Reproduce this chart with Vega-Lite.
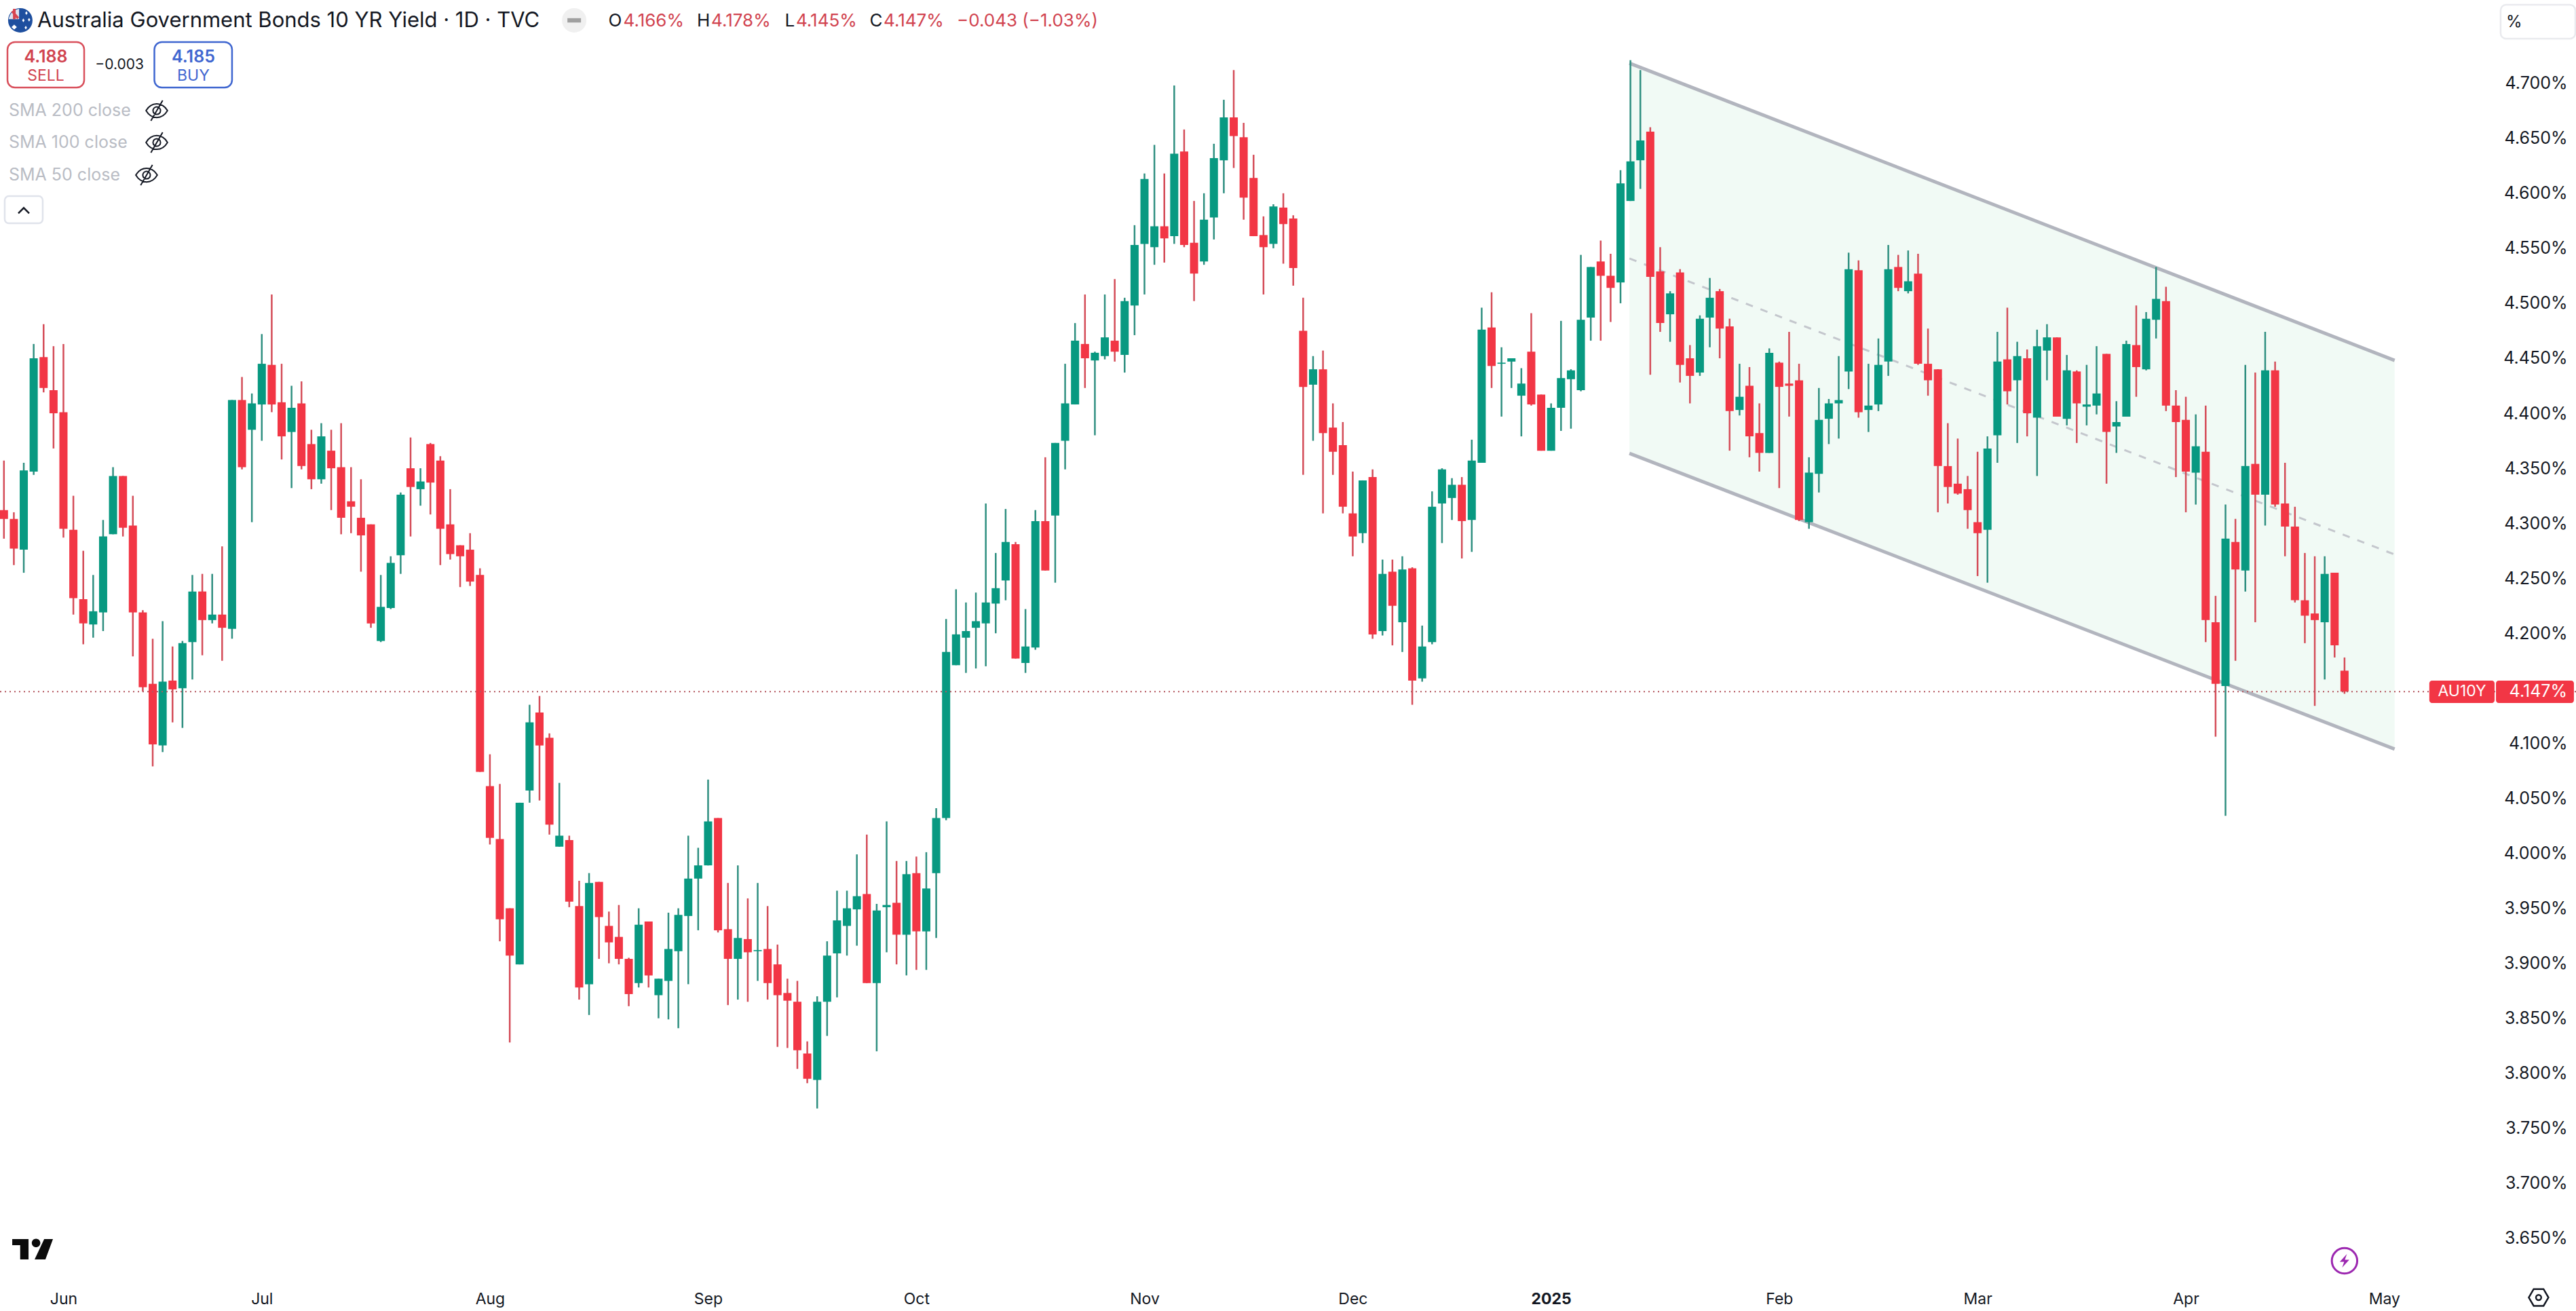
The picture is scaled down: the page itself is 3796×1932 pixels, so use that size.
{
"$schema":"https://vega.github.io/schema/vega-lite/v6.json",
"width":3796,"height":1932,"padding":0,"autosize":{"type":"none"},"background":"#ffffff",
"config":{"view":{"stroke":null},"text":{"font":"Inter","baseline":"middle","align":"left"}},
"data":{"values":[{}]},
"datasets":{
"channel":[
{"bar":163.9,"upper":4.7183,"mid":4.5407,"lower":4.3636},
{"bar":241.05,"upper":4.4481,"mid":4.2716,"lower":4.0947}],
"candles":[
{"bar":0,"open":4.312,"high":4.357,"low":4.286,"close":4.304},
{"bar":1,"open":4.304,"high":4.31,"low":4.262,"close":4.277},
{"bar":2,"open":4.276,"high":4.355,"low":4.255,"close":4.348},
{"bar":3,"open":4.347,"high":4.463,"low":4.344,"close":4.45},
{"bar":4,"open":4.451,"high":4.481,"low":4.419,"close":4.423},
{"bar":5,"open":4.421,"high":4.461,"low":4.368,"close":4.4},
{"bar":6,"open":4.401,"high":4.463,"low":4.287,"close":4.295},
{"bar":7,"open":4.294,"high":4.325,"low":4.217,"close":4.232},
{"bar":8,"open":4.231,"high":4.275,"low":4.19,"close":4.209},
{"bar":9,"open":4.208,"high":4.253,"low":4.196,"close":4.22},
{"bar":10,"open":4.219,"high":4.303,"low":4.202,"close":4.288},
{"bar":11,"open":4.29,"high":4.351,"low":4.29,"close":4.343},
{"bar":12,"open":4.343,"high":4.343,"low":4.288,"close":4.296},
{"bar":13,"open":4.298,"high":4.325,"low":4.179,"close":4.219},
{"bar":14,"open":4.219,"high":4.221,"low":4.147,"close":4.151},
{"bar":15,"open":4.154,"high":4.195,"low":4.079,"close":4.099},
{"bar":16,"open":4.098,"high":4.211,"low":4.092,"close":4.156},
{"bar":17,"open":4.157,"high":4.188,"low":4.119,"close":4.149},
{"bar":18,"open":4.15,"high":4.193,"low":4.114,"close":4.191},
{"bar":19,"open":4.192,"high":4.253,"low":4.158,"close":4.238},
{"bar":20,"open":4.238,"high":4.254,"low":4.18,"close":4.212},
{"bar":21,"open":4.212,"high":4.254,"low":4.209,"close":4.217},
{"bar":22,"open":4.217,"high":4.279,"low":4.175,"close":4.205},
{"bar":23,"open":4.204,"high":4.412,"low":4.195,"close":4.412},
{"bar":24,"open":4.412,"high":4.433,"low":4.349,"close":4.351},
{"bar":25,"open":4.385,"high":4.418,"low":4.301,"close":4.409},
{"bar":26,"open":4.408,"high":4.472,"low":4.375,"close":4.445},
{"bar":27,"open":4.444,"high":4.508,"low":4.401,"close":4.408},
{"bar":28,"open":4.41,"high":4.445,"low":4.358,"close":4.379},
{"bar":29,"open":4.383,"high":4.425,"low":4.332,"close":4.405},
{"bar":30,"open":4.409,"high":4.429,"low":4.349,"close":4.352},
{"bar":31,"open":4.372,"high":4.385,"low":4.331,"close":4.34},
{"bar":32,"open":4.34,"high":4.391,"low":4.336,"close":4.379},
{"bar":33,"open":4.366,"high":4.385,"low":4.312,"close":4.35},
{"bar":34,"open":4.351,"high":4.391,"low":4.29,"close":4.305},
{"bar":35,"open":4.32,"high":4.351,"low":4.291,"close":4.315},
{"bar":36,"open":4.305,"high":4.34,"low":4.256,"close":4.289},
{"bar":37,"open":4.299,"high":4.299,"low":4.205,"close":4.209},
{"bar":38,"open":4.193,"high":4.253,"low":4.192,"close":4.224},
{"bar":39,"open":4.223,"high":4.27,"low":4.222,"close":4.264},
{"bar":40,"open":4.271,"high":4.328,"low":4.254,"close":4.326},
{"bar":41,"open":4.35,"high":4.378,"low":4.288,"close":4.333},
{"bar":42,"open":4.331,"high":4.35,"low":4.316,"close":4.338},
{"bar":43,"open":4.372,"high":4.373,"low":4.308,"close":4.337},
{"bar":44,"open":4.357,"high":4.361,"low":4.262,"close":4.295},
{"bar":45,"open":4.299,"high":4.331,"low":4.267,"close":4.272},
{"bar":46,"open":4.28,"high":4.28,"low":4.242,"close":4.27},
{"bar":47,"open":4.276,"high":4.291,"low":4.243,"close":4.247},
{"bar":48,"open":4.253,"high":4.259,"low":4.074,"close":4.074},
{"bar":49,"open":4.061,"high":4.09,"low":4.008,"close":4.014},
{"bar":50,"open":4.013,"high":4.063,"low":3.92,"close":3.94},
{"bar":51,"open":3.95,"high":3.95,"low":3.828,"close":3.907},
{"bar":52,"open":3.899,"high":4.046,"low":3.899,"close":4.046},
{"bar":53,"open":4.057,"high":4.135,"low":4.046,"close":4.119},
{"bar":54,"open":4.128,"high":4.143,"low":4.048,"close":4.098},
{"bar":55,"open":4.105,"high":4.109,"low":4.017,"close":4.026},
{"bar":56,"open":4.006,"high":4.064,"low":4.006,"close":4.016},
{"bar":57,"open":4.012,"high":4.016,"low":3.951,"close":3.956},
{"bar":58,"open":3.952,"high":3.975,"low":3.867,"close":3.878},
{"bar":59,"open":3.881,"high":3.982,"low":3.853,"close":3.973},
{"bar":60,"open":3.974,"high":3.974,"low":3.904,"close":3.942},
{"bar":61,"open":3.934,"high":3.947,"low":3.9,"close":3.919},
{"bar":62,"open":3.924,"high":3.953,"low":3.899,"close":3.904},
{"bar":63,"open":3.904,"high":3.905,"low":3.861,"close":3.872},
{"bar":64,"open":3.882,"high":3.95,"low":3.878,"close":3.935},
{"bar":65,"open":3.938,"high":3.938,"low":3.878,"close":3.889},
{"bar":66,"open":3.871,"high":3.886,"low":3.85,"close":3.886},
{"bar":67,"open":3.884,"high":3.946,"low":3.849,"close":3.913},
{"bar":68,"open":3.911,"high":3.95,"low":3.841,"close":3.944},
{"bar":69,"open":3.943,"high":4.016,"low":3.881,"close":3.977},
{"bar":70,"open":3.977,"high":4.005,"low":3.93,"close":3.989},
{"bar":71,"open":3.989,"high":4.067,"low":3.989,"close":4.029},
{"bar":72,"open":4.032,"high":4.032,"low":3.928,"close":3.93},
{"bar":73,"open":3.931,"high":3.973,"low":3.862,"close":3.904},
{"bar":74,"open":3.904,"high":3.989,"low":3.867,"close":3.923},
{"bar":75,"open":3.922,"high":3.959,"low":3.865,"close":3.91},
{"bar":76,"open":3.911,"high":3.973,"low":3.884,"close":3.912},
{"bar":77,"open":3.913,"high":3.952,"low":3.867,"close":3.882},
{"bar":78,"open":3.899,"high":3.917,"low":3.824,"close":3.871},
{"bar":79,"open":3.873,"high":3.886,"low":3.823,"close":3.866},
{"bar":80,"open":3.865,"high":3.884,"low":3.804,"close":3.821},
{"bar":81,"open":3.818,"high":3.829,"low":3.791,"close":3.795},
{"bar":82,"open":3.794,"high":3.87,"low":3.768,"close":3.865},
{"bar":83,"open":3.865,"high":3.92,"low":3.834,"close":3.907},
{"bar":84,"open":3.909,"high":3.966,"low":3.869,"close":3.939},
{"bar":85,"open":3.934,"high":3.966,"low":3.907,"close":3.95},
{"bar":86,"open":3.949,"high":3.999,"low":3.916,"close":3.961},
{"bar":87,"open":3.963,"high":4.017,"low":3.882,"close":3.882},
{"bar":88,"open":3.882,"high":3.954,"low":3.82,"close":3.948},
{"bar":89,"open":3.951,"high":4.029,"low":3.91,"close":3.953},
{"bar":90,"open":3.955,"high":3.993,"low":3.899,"close":3.926},
{"bar":91,"open":3.926,"high":3.993,"low":3.889,"close":3.981},
{"bar":92,"open":3.982,"high":3.997,"low":3.894,"close":3.929},
{"bar":93,"open":3.929,"high":4.001,"low":3.894,"close":3.968},
{"bar":94,"open":3.982,"high":4.041,"low":3.923,"close":4.032},
{"bar":95,"open":4.032,"high":4.213,"low":4.03,"close":4.183},
{"bar":96,"open":4.171,"high":4.24,"low":4.171,"close":4.199},
{"bar":97,"open":4.196,"high":4.228,"low":4.164,"close":4.202},
{"bar":98,"open":4.205,"high":4.237,"low":4.168,"close":4.211},
{"bar":99,"open":4.209,"high":4.318,"low":4.17,"close":4.228},
{"bar":100,"open":4.227,"high":4.273,"low":4.2,"close":4.241},
{"bar":101,"open":4.248,"high":4.313,"low":4.23,"close":4.283},
{"bar":102,"open":4.281,"high":4.283,"low":4.177,"close":4.177},
{"bar":103,"open":4.173,"high":4.222,"low":4.164,"close":4.188},
{"bar":104,"open":4.187,"high":4.312,"low":4.185,"close":4.302},
{"bar":105,"open":4.302,"high":4.36,"low":4.257,"close":4.257},
{"bar":106,"open":4.307,"high":4.373,"low":4.246,"close":4.373},
{"bar":107,"open":4.375,"high":4.445,"low":4.349,"close":4.409},
{"bar":108,"open":4.408,"high":4.482,"low":4.408,"close":4.466},
{"bar":109,"open":4.463,"high":4.508,"low":4.423,"close":4.45},
{"bar":110,"open":4.448,"high":4.456,"low":4.38,"close":4.455},
{"bar":111,"open":4.452,"high":4.508,"low":4.449,"close":4.469},
{"bar":112,"open":4.466,"high":4.522,"low":4.447,"close":4.456},
{"bar":113,"open":4.453,"high":4.505,"low":4.437,"close":4.502},
{"bar":114,"open":4.498,"high":4.571,"low":4.471,"close":4.553},
{"bar":115,"open":4.554,"high":4.618,"low":4.508,"close":4.613},
{"bar":116,"open":4.551,"high":4.644,"low":4.535,"close":4.57},
{"bar":117,"open":4.57,"high":4.618,"low":4.537,"close":4.559},
{"bar":118,"open":4.561,"high":4.698,"low":4.554,"close":4.636},
{"bar":119,"open":4.638,"high":4.658,"low":4.551,"close":4.553},
{"bar":120,"open":4.555,"high":4.593,"low":4.502,"close":4.527},
{"bar":121,"open":4.538,"high":4.6,"low":4.535,"close":4.576},
{"bar":122,"open":4.578,"high":4.645,"low":4.558,"close":4.632},
{"bar":123,"open":4.63,"high":4.685,"low":4.6,"close":4.669},
{"bar":124,"open":4.669,"high":4.712,"low":4.623,"close":4.652},
{"bar":125,"open":4.651,"high":4.664,"low":4.576,"close":4.596},
{"bar":126,"open":4.614,"high":4.635,"low":4.561,"close":4.561},
{"bar":127,"open":4.562,"high":4.579,"low":4.508,"close":4.551},
{"bar":128,"open":4.554,"high":4.59,"low":4.55,"close":4.588},
{"bar":129,"open":4.587,"high":4.6,"low":4.536,"close":4.572},
{"bar":130,"open":4.577,"high":4.58,"low":4.516,"close":4.532},
{"bar":131,"open":4.475,"high":4.505,"low":4.344,"close":4.424},
{"bar":132,"open":4.426,"high":4.452,"low":4.375,"close":4.44},
{"bar":133,"open":4.44,"high":4.457,"low":4.309,"close":4.382},
{"bar":134,"open":4.387,"high":4.409,"low":4.344,"close":4.365},
{"bar":135,"open":4.371,"high":4.392,"low":4.309,"close":4.315},
{"bar":136,"open":4.309,"high":4.347,"low":4.27,"close":4.288},
{"bar":137,"open":4.291,"high":4.339,"low":4.282,"close":4.339},
{"bar":138,"open":4.342,"high":4.349,"low":4.195,"close":4.199},
{"bar":139,"open":4.202,"high":4.267,"low":4.198,"close":4.254},
{"bar":140,"open":4.256,"high":4.267,"low":4.189,"close":4.225},
{"bar":141,"open":4.21,"high":4.27,"low":4.183,"close":4.258},
{"bar":142,"open":4.259,"high":4.26,"low":4.135,"close":4.157},
{"bar":143,"open":4.159,"high":4.207,"low":4.156,"close":4.188},
{"bar":144,"open":4.192,"high":4.329,"low":4.19,"close":4.315},
{"bar":145,"open":4.318,"high":4.35,"low":4.282,"close":4.349},
{"bar":146,"open":4.323,"high":4.341,"low":4.303,"close":4.335},
{"bar":147,"open":4.335,"high":4.342,"low":4.268,"close":4.302},
{"bar":148,"open":4.303,"high":4.376,"low":4.274,"close":4.357},
{"bar":149,"open":4.355,"high":4.496,"low":4.355,"close":4.476},
{"bar":150,"open":4.478,"high":4.51,"low":4.423,"close":4.443},
{"bar":151,"open":4.445,"high":4.46,"low":4.397,"close":4.446},
{"bar":152,"open":4.447,"high":4.45,"low":4.423,"close":4.45},
{"bar":153,"open":4.416,"high":4.441,"low":4.379,"close":4.427},
{"bar":154,"open":4.456,"high":4.491,"low":4.407,"close":4.408},
{"bar":155,"open":4.417,"high":4.417,"low":4.366,"close":4.366},
{"bar":156,"open":4.366,"high":4.409,"low":4.366,"close":4.405},
{"bar":157,"open":4.405,"high":4.484,"low":4.384,"close":4.432},
{"bar":158,"open":4.431,"high":4.44,"low":4.386,"close":4.439},
{"bar":159,"open":4.421,"high":4.544,"low":4.42,"close":4.485},
{"bar":160,"open":4.487,"high":4.533,"low":4.466,"close":4.533},
{"bar":161,"open":4.538,"high":4.557,"low":4.466,"close":4.525},
{"bar":162,"open":4.525,"high":4.545,"low":4.483,"close":4.514},
{"bar":163,"open":4.519,"high":4.621,"low":4.5,"close":4.609},
{"bar":164,"open":4.593,"high":4.721,"low":4.593,"close":4.629},
{"bar":165,"open":4.63,"high":4.712,"low":4.604,"close":4.648},
{"bar":166,"open":4.656,"high":4.66,"low":4.435,"close":4.524},
{"bar":167,"open":4.529,"high":4.551,"low":4.474,"close":4.482},
{"bar":168,"open":4.49,"high":4.511,"low":4.465,"close":4.509},
{"bar":169,"open":4.528,"high":4.531,"low":4.428,"close":4.444},
{"bar":170,"open":4.45,"high":4.462,"low":4.409,"close":4.434},
{"bar":171,"open":4.437,"high":4.489,"low":4.434,"close":4.486},
{"bar":172,"open":4.487,"high":4.523,"low":4.46,"close":4.505},
{"bar":173,"open":4.511,"high":4.513,"low":4.45,"close":4.477},
{"bar":174,"open":4.479,"high":4.486,"low":4.366,"close":4.402},
{"bar":175,"open":4.403,"high":4.445,"low":4.398,"close":4.415},
{"bar":176,"open":4.425,"high":4.442,"low":4.36,"close":4.379},
{"bar":177,"open":4.382,"high":4.409,"low":4.347,"close":4.364},
{"bar":178,"open":4.364,"high":4.459,"low":4.364,"close":4.455},
{"bar":179,"open":4.446,"high":4.447,"low":4.332,"close":4.424},
{"bar":180,"open":4.427,"high":4.474,"low":4.397,"close":4.425},
{"bar":181,"open":4.43,"high":4.445,"low":4.302,"close":4.303},
{"bar":182,"open":4.301,"high":4.36,"low":4.295,"close":4.346},
{"bar":183,"open":4.345,"high":4.423,"low":4.328,"close":4.394},
{"bar":184,"open":4.395,"high":4.413,"low":4.372,"close":4.409},
{"bar":185,"open":4.409,"high":4.452,"low":4.377,"close":4.412},
{"bar":186,"open":4.438,"high":4.546,"low":4.422,"close":4.531},
{"bar":187,"open":4.53,"high":4.539,"low":4.396,"close":4.401},
{"bar":188,"open":4.403,"high":4.445,"low":4.383,"close":4.407},
{"bar":189,"open":4.408,"high":4.468,"low":4.402,"close":4.444},
{"bar":190,"open":4.447,"high":4.553,"low":4.434,"close":4.531},
{"bar":191,"open":4.533,"high":4.544,"low":4.511,"close":4.514},
{"bar":192,"open":4.511,"high":4.548,"low":4.509,"close":4.52},
{"bar":193,"open":4.527,"high":4.545,"low":4.444,"close":4.445},
{"bar":194,"open":4.445,"high":4.477,"low":4.416,"close":4.43},
{"bar":195,"open":4.44,"high":4.44,"low":4.31,"close":4.352},
{"bar":196,"open":4.352,"high":4.391,"low":4.318,"close":4.333},
{"bar":197,"open":4.336,"high":4.377,"low":4.326,"close":4.327},
{"bar":198,"open":4.331,"high":4.343,"low":4.295,"close":4.312},
{"bar":199,"open":4.301,"high":4.365,"low":4.252,"close":4.291},
{"bar":200,"open":4.294,"high":4.379,"low":4.246,"close":4.368},
{"bar":201,"open":4.38,"high":4.474,"low":4.355,"close":4.447},
{"bar":202,"open":4.449,"high":4.496,"low":4.408,"close":4.42},
{"bar":203,"open":4.43,"high":4.465,"low":4.373,"close":4.452},
{"bar":204,"open":4.45,"high":4.458,"low":4.379,"close":4.4},
{"bar":205,"open":4.396,"high":4.476,"low":4.343,"close":4.461},
{"bar":206,"open":4.457,"high":4.481,"low":4.43,"close":4.469},
{"bar":207,"open":4.469,"high":4.469,"low":4.397,"close":4.397},
{"bar":208,"open":4.395,"high":4.453,"low":4.389,"close":4.439},
{"bar":209,"open":4.438,"high":4.439,"low":4.373,"close":4.409},
{"bar":210,"open":4.406,"high":4.444,"low":4.389,"close":4.408},
{"bar":211,"open":4.407,"high":4.461,"low":4.399,"close":4.418},
{"bar":212,"open":4.454,"high":4.454,"low":4.336,"close":4.383},
{"bar":213,"open":4.388,"high":4.411,"low":4.364,"close":4.392},
{"bar":214,"open":4.397,"high":4.466,"low":4.397,"close":4.463},
{"bar":215,"open":4.462,"high":4.498,"low":4.415,"close":4.442},
{"bar":216,"open":4.44,"high":4.492,"low":4.439,"close":4.486},
{"bar":217,"open":4.485,"high":4.533,"low":4.468,"close":4.504},
{"bar":218,"open":4.502,"high":4.515,"low":4.402,"close":4.407},
{"bar":219,"open":4.407,"high":4.421,"low":4.342,"close":4.392},
{"bar":220,"open":4.394,"high":4.415,"low":4.31,"close":4.347},
{"bar":221,"open":4.346,"high":4.399,"low":4.317,"close":4.37},
{"bar":222,"open":4.365,"high":4.407,"low":4.192,"close":4.212},
{"bar":223,"open":4.21,"high":4.234,"low":4.106,"close":4.154},
{"bar":224,"open":4.152,"high":4.317,"low":4.034,"close":4.286},
{"bar":225,"open":4.283,"high":4.304,"low":4.175,"close":4.258},
{"bar":226,"open":4.257,"high":4.444,"low":4.238,"close":4.352},
{"bar":227,"open":4.354,"high":4.437,"low":4.21,"close":4.326},
{"bar":228,"open":4.326,"high":4.474,"low":4.298,"close":4.439},
{"bar":229,"open":4.439,"high":4.447,"low":4.315,"close":4.317},
{"bar":230,"open":4.318,"high":4.355,"low":4.27,"close":4.297},
{"bar":231,"open":4.297,"high":4.315,"low":4.228,"close":4.23},
{"bar":232,"open":4.23,"high":4.273,"low":4.191,"close":4.216},
{"bar":233,"open":4.218,"high":4.27,"low":4.134,"close":4.212},
{"bar":234,"open":4.21,"high":4.27,"low":4.158,"close":4.254},
{"bar":235,"open":4.255,"high":4.255,"low":4.178,"close":4.189},
{"bar":236,"open":4.166,"high":4.178,"low":4.145,"close":4.147}
]},
"layer":[
{"data":{"name":"channel"},
 "layer":[
 {"mark":{"type":"area","color":"#f1faf5","opacity":1},
  "encoding":{"x":{"field":"bar","type":"quantitative","scale":{"domain":[-0.397,259.34],"nice":false,"zero":false,"padding":0},
    "axis":{"orient":"bottom","title":null,"values":[6,26,49,71,92,115,136,156,179,199,220,240],
      "labelExpr":"['Jun','Jul','Aug','Sep','Oct','Nov','Dec','2025','Feb','Mar','Apr','May'][indexof([6,26,49,71,92,115,136,156,179,199,220,240],datum.value)]",
      "labelFont":"Inter","labelFontSize":23,"labelColor":"#131722","labelPadding":-18,"labelBaseline":"middle","labelOverlap":false,"labelBound":false,"labelFlush":false,"ticks":false,"domain":false,"grid":false,
      "labelFontWeight":{"condition":{"test":"datum.value==156","value":"bold"},"value":"normal"}}},
   "y":{"field":"upper","type":"quantitative","scale":{"domain":[3.5839,4.7757],"nice":false,"zero":false},
    "axis":{"orient":"right","title":null,"values":[3.65,3.7,3.75,3.8,3.85,3.9,3.95,4,4.05,4.1,4.2,4.25,4.3,4.35,4.4,4.45,4.5,4.55,4.6,4.65,4.7],
      "labelExpr":"format(datum.value,'.3f')+'%'",
      "labelFont":"Inter","labelFontSize":25,"labelColor":"#131722","labelAlign":"right","labelPadding":-13,"labelBaseline":"middle","labelOverlap":false,"labelBound":false,"ticks":false,"domain":false,"grid":false}},
   "y2":{"field":"lower"}}},
 {"mark":{"type":"line","color":"#b2b5be","strokeWidth":5},
  "encoding":{"x":{"field":"bar","type":"quantitative"},"y":{"field":"upper","type":"quantitative"}}},
 {"mark":{"type":"line","color":"#b2b5be","strokeWidth":5},
  "encoding":{"x":{"field":"bar","type":"quantitative"},"y":{"field":"lower","type":"quantitative"}}},
 {"mark":{"type":"line","color":"#c4c7cd","strokeWidth":3,"strokeDash":[11,12]},
  "encoding":{"x":{"field":"bar","type":"quantitative"},"y":{"field":"mid","type":"quantitative"}}}
 ]},
{"data":{"name":"candles"},
 "encoding":{"x":{"field":"bar","type":"quantitative"}},
 "layer":[
 {"mark":{"type":"rule","strokeWidth":2.5},
  "encoding":{"y":{"field":"low","type":"quantitative"},"y2":{"field":"high"},
   "color":{"condition":{"test":"datum.close >= datum.open","value":"#2f8f80"},"value":"#d44c58"}}},
 {"mark":{"type":"bar","size":12},
  "encoding":{"y":{"field":"open","type":"quantitative"},"y2":{"field":"close"},
   "color":{"condition":{"test":"datum.close >= datum.open","value":"#089981"},"value":"#F23645"}}}
 ]},
{"mark":{"type":"rule","color":"#b4575f","strokeWidth":2,"strokeDash":[2,5]},
 "encoding":{"y":{"datum":4.147,"type":"quantitative"}}},
{"mark":{"type":"rect","fill":"#F23645","cornerRadius":4},
 "encoding":{"x":{"datum":244.55,"type":"quantitative"},"x2":{"datum":251.13},"y":{"datum":4.157,"type":"quantitative"},"y2":{"datum":4.1366}}},
{"mark":{"type":"rect","fill":"#F23645","cornerRadius":4},
 "encoding":{"x":{"datum":251.27,"type":"quantitative"},"x2":{"datum":259.13},"y":{"datum":4.157,"type":"quantitative"},"y2":{"datum":4.1366}}},
{"mark":{"type":"text","text":"AU10Y","fontSize":23,"color":"#ffffff","align":"center"},
 "encoding":{"x":{"datum":247.85,"type":"quantitative"},"y":{"datum":4.147,"type":"quantitative"}}},
{"mark":{"type":"text","text":"4.147%","fontSize":25,"color":"#ffffff","align":"right"},
 "encoding":{"x":{"datum":258.45,"type":"quantitative"},"y":{"datum":4.147,"type":"quantitative"}}},
{"mark":{"type":"text","text":"Australia Government Bonds 10 YR Yield · 1D · TVC","fontSize":31,"color":"#131722"},
 "encoding":{"x":{"datum":3.37,"type":"quantitative"},"y":{"datum":4.7566,"type":"quantitative"}}},
{"mark":{"type":"point","shape":"circle","size":1296,"filled":true,"fill":"#f0f0f0","opacity":1},
 "encoding":{"x":{"datum":57.5,"type":"quantitative"},"y":{"datum":4.7572,"type":"quantitative"}}},
{"mark":{"type":"point","shape":"M-1,-0.32 L1,-0.32 L1,0.32 L-1,0.32 Z","size":400,"filled":true,"fill":"#a0a0a0","opacity":1},
 "encoding":{"x":{"datum":57.5,"type":"quantitative"},"y":{"datum":4.7572,"type":"quantitative"}}},
{"mark":{"type":"text","text":"O","fontSize":26,"color":"#131722"},"encoding":{"x":{"datum":60.94,"type":"quantitative"},"y":{"datum":4.7566,"type":"quantitative"}}},
{"mark":{"type":"text","text":"4.166%","fontSize":26,"color":"#d1434f"},"encoding":{"x":{"datum":62.45,"type":"quantitative"},"y":{"datum":4.7566,"type":"quantitative"}}},
{"mark":{"type":"text","text":"H","fontSize":26,"color":"#131722"},"encoding":{"x":{"datum":69.87,"type":"quantitative"},"y":{"datum":4.7566,"type":"quantitative"}}},
{"mark":{"type":"text","text":"4.178%","fontSize":26,"color":"#d1434f"},"encoding":{"x":{"datum":71.31,"type":"quantitative"},"y":{"datum":4.7566,"type":"quantitative"}}},
{"mark":{"type":"text","text":"L","fontSize":26,"color":"#131722"},"encoding":{"x":{"datum":78.73,"type":"quantitative"},"y":{"datum":4.7566,"type":"quantitative"}}},
{"mark":{"type":"text","text":"4.145%","fontSize":26,"color":"#d1434f"},"encoding":{"x":{"datum":79.86,"type":"quantitative"},"y":{"datum":4.7566,"type":"quantitative"}}},
{"mark":{"type":"text","text":"C","fontSize":26,"color":"#131722"},"encoding":{"x":{"datum":87.29,"type":"quantitative"},"y":{"datum":4.7566,"type":"quantitative"}}},
{"mark":{"type":"text","text":"4.147%","fontSize":26,"color":"#d1434f"},"encoding":{"x":{"datum":88.69,"type":"quantitative"},"y":{"datum":4.7566,"type":"quantitative"}}},
{"mark":{"type":"text","text":"−0.043 (−1.03%)","fontSize":26,"color":"#d1434f"},"encoding":{"x":{"datum":96.08,"type":"quantitative"},"y":{"datum":4.7566,"type":"quantitative"}}},
{"mark":{"type":"rect","fill":"#ffffff","stroke":"#d9505c","strokeWidth":2.5,"cornerRadius":11},
 "encoding":{"x":{"datum":0.356,"type":"quantitative"},"x2":{"datum":8.09},"y":{"datum":4.7375,"type":"quantitative"},"y2":{"datum":4.6961}}},
{"mark":{"type":"rect","fill":"#ffffff","stroke":"#3f66d0","strokeWidth":2.5,"cornerRadius":11},
 "encoding":{"x":{"datum":15.17,"type":"quantitative"},"x2":{"datum":23.0},"y":{"datum":4.7375,"type":"quantitative"},"y2":{"datum":4.6961}}},
{"mark":{"type":"text","text":"4.188","fontSize":25,"fontWeight":600,"color":"#d1434f","align":"center"},"encoding":{"x":{"datum":4.22,"type":"quantitative"},"y":{"datum":4.7239,"type":"quantitative"}}},
{"mark":{"type":"text","text":"SELL","fontSize":23,"color":"#d1434f","align":"center"},"encoding":{"x":{"datum":4.22,"type":"quantitative"},"y":{"datum":4.7066,"type":"quantitative"}}},
{"mark":{"type":"text","text":"4.185","fontSize":25,"fontWeight":600,"color":"#3f66d0","align":"center"},"encoding":{"x":{"datum":19.1,"type":"quantitative"},"y":{"datum":4.7239,"type":"quantitative"}}},
{"mark":{"type":"text","text":"BUY","fontSize":23,"color":"#3f66d0","align":"center"},"encoding":{"x":{"datum":19.1,"type":"quantitative"},"y":{"datum":4.7066,"type":"quantitative"}}},
{"mark":{"type":"text","text":"−0.003","fontSize":21,"color":"#131722","align":"center"},"encoding":{"x":{"datum":11.65,"type":"quantitative"},"y":{"datum":4.7165,"type":"quantitative"}}},
{"mark":{"type":"text","text":"SMA 200 close","fontSize":25,"color":"#b9bcc4"},"encoding":{"x":{"datum":0.49,"type":"quantitative"},"y":{"datum":4.6751,"type":"quantitative"}}},
{"mark":{"type":"text","text":"SMA 100 close","fontSize":25,"color":"#b9bcc4"},"encoding":{"x":{"datum":0.49,"type":"quantitative"},"y":{"datum":4.6462,"type":"quantitative"}}},
{"mark":{"type":"text","text":"SMA 50 close","fontSize":25,"color":"#b9bcc4"},"encoding":{"x":{"datum":0.49,"type":"quantitative"},"y":{"datum":4.6165,"type":"quantitative"}}},
{"mark":{"type":"point","shape":"M-1,0 C-0.5,-0.85 0.5,-0.85 1,0 C0.5,0.85 -0.5,0.85 -1,0 Z M-0.35,0 A0.35,0.35 0 1 0 0.35,0 A0.35,0.35 0 1 0 -0.35,0 Z M-0.55,0.95 L0.55,-0.95","size":1000,"filled":false,"stroke":"#131722","strokeWidth":2,"opacity":1},
 "encoding":{"x":{"datum":15.41,"type":"quantitative"},"y":{"datum":4.6751,"type":"quantitative"}}},
{"mark":{"type":"point","shape":"M-1,0 C-0.5,-0.85 0.5,-0.85 1,0 C0.5,0.85 -0.5,0.85 -1,0 Z M-0.35,0 A0.35,0.35 0 1 0 0.35,0 A0.35,0.35 0 1 0 -0.35,0 Z M-0.55,0.95 L0.55,-0.95","size":1000,"filled":false,"stroke":"#131722","strokeWidth":2,"opacity":1},
 "encoding":{"x":{"datum":15.41,"type":"quantitative"},"y":{"datum":4.6462,"type":"quantitative"}}},
{"mark":{"type":"point","shape":"M-1,0 C-0.5,-0.85 0.5,-0.85 1,0 C0.5,0.85 -0.5,0.85 -1,0 Z M-0.35,0 A0.35,0.35 0 1 0 0.35,0 A0.35,0.35 0 1 0 -0.35,0 Z M-0.55,0.95 L0.55,-0.95","size":1000,"filled":false,"stroke":"#131722","strokeWidth":2,"opacity":1},
 "encoding":{"x":{"datum":14.38,"type":"quantitative"},"y":{"datum":4.6165,"type":"quantitative"}}},
{"mark":{"type":"rect","fill":"#ffffff","stroke":"#e0e3eb","strokeWidth":2.5,"cornerRadius":6},
 "encoding":{"x":{"datum":0.08,"type":"quantitative"},"x2":{"datum":3.91},"y":{"datum":4.5974,"type":"quantitative"},"y2":{"datum":4.5727}}},
{"mark":{"type":"point","shape":"M-1,0.55 L0,-0.45 L1,0.55","size":256,"filled":false,"stroke":"#131722","strokeWidth":2.5,"opacity":1},
 "encoding":{"x":{"datum":1.998,"type":"quantitative"},"y":{"datum":4.5845,"type":"quantitative"}}},
{"mark":{"type":"rect","fill":"#ffffff","stroke":"#e9eaee","strokeWidth":2.5,"cornerRadius":8},
 "encoding":{"x":{"datum":251.74,"type":"quantitative"},"x2":{"datum":259.27},"y":{"datum":4.7714,"type":"quantitative"},"y2":{"datum":4.7405}}},
{"mark":{"type":"text","text":"%","fontSize":24,"color":"#131722"},"encoding":{"x":{"datum":252.3,"type":"quantitative"},"y":{"datum":4.7553,"type":"quantitative"}}},
{"mark":{"type":"point","shape":"M-1,-0.5 L-0.2,-0.5 L-0.2,0.5 L-0.61,0.5 L-0.61,-0.2 L-1,-0.2 Z M0.57,-0.5 L1,-0.5 L0.63,0.5 L0.1,0.5 Z M-0.04,-0.31 A0.21,0.21 0 1 0 0.38,-0.31 A0.21,0.21 0 1 0 -0.04,-0.31 Z","size":3600,"filled":true,"fill":"#0b0b0b","opacity":1},
 "encoding":{"x":{"datum":2.89,"type":"quantitative"},"y":{"datum":3.64,"type":"quantitative"}}},
{"mark":{"type":"point","shape":"circle","size":1400,"filled":false,"stroke":"#9c27b0","strokeWidth":3,"opacity":1},
 "encoding":{"x":{"datum":236.0,"type":"quantitative"},"y":{"datum":3.6295,"type":"quantitative"}}},
{"mark":{"type":"point","shape":"M0.35,-1 L-0.7,0.15 L-0.05,0.15 L-0.35,1 L0.7,-0.15 L0.05,-0.15 Z","size":400,"filled":true,"fill":"#9c27b0","opacity":1},
 "encoding":{"x":{"datum":236.0,"type":"quantitative"},"y":{"datum":3.6295,"type":"quantitative"}}},
{"mark":{"type":"point","shape":"M-1,0 L-0.5,-0.85 L0.5,-0.85 L1,0 L0.5,0.85 L-0.5,0.85 Z","size":841,"filled":false,"stroke":"#131722","strokeWidth":2.5,"opacity":1},
 "encoding":{"x":{"datum":255.57,"type":"quantitative"},"y":{"datum":3.5962,"type":"quantitative"}}},
{"mark":{"type":"point","shape":"circle","size":60,"filled":false,"stroke":"#131722","strokeWidth":2.5,"opacity":1},
 "encoding":{"x":{"datum":255.57,"type":"quantitative"},"y":{"datum":3.5962,"type":"quantitative"}}},
{"mark":{"type":"point","shape":"circle","size":1296,"filled":true,"fill":"#1e4f9f","opacity":1},
 "encoding":{"x":{"datum":1.65,"type":"quantitative"},"y":{"datum":4.7572,"type":"quantitative"}}},
{"mark":{"type":"point","shape":"M-0.95,-0.1 A1,1 0 0 1 -0.1,-0.95 L-0.1,-0.1 Z","size":1296,"filled":true,"fill":"#dfe3ee","opacity":1},
 "encoding":{"x":{"datum":1.65,"type":"quantitative"},"y":{"datum":4.7572,"type":"quantitative"}}},
{"mark":{"type":"point","shape":"M-0.75,-0.7 L-0.6,-0.8 L-0.1,-0.25 L-0.25,-0.1 Z M-0.6,-0.95 L-0.38,-0.95 L-0.38,-0.1 L-0.6,-0.1 Z","size":1296,"filled":true,"fill":"#d8454f","opacity":1},
 "encoding":{"x":{"datum":1.65,"type":"quantitative"},"y":{"datum":4.7572,"type":"quantitative"}}},
{"mark":{"type":"point","shape":"M-0.5,0.35 L-0.28,0.55 L-0.5,0.75 L-0.72,0.55 Z M0.5,-0.75 L0.6,-0.6 L0.5,-0.45 L0.4,-0.6 Z M0.25,-0.15 L0.35,0 L0.25,0.15 L0.15,0 Z M0.72,-0.2 L0.82,-0.05 L0.72,0.1 L0.62,-0.05 Z M0.45,0.45 L0.55,0.6 L0.45,0.75 L0.35,0.6 Z","size":1296,"filled":true,"fill":"#ffffff","opacity":1},
 "encoding":{"x":{"datum":1.65,"type":"quantitative"},"y":{"datum":4.7572,"type":"quantitative"}}}
]
}
